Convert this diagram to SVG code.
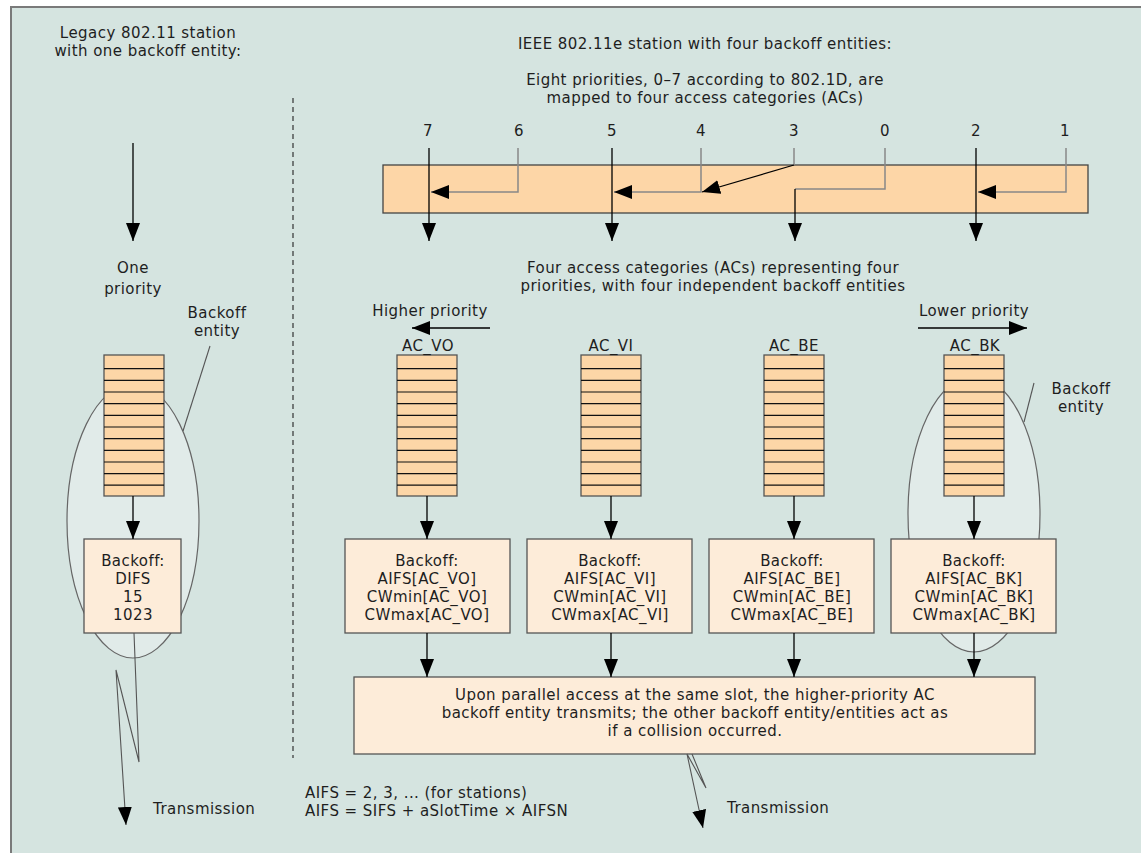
<svg xmlns="http://www.w3.org/2000/svg" width="1141" height="853" viewBox="0 0 1141 853">
<defs>
<style>
text{font-family:"DejaVu Sans","Open Sans","Liberation Sans",sans-serif;font-size:15px;letter-spacing:0.45px;fill:#1e1e1e;text-anchor:middle}
.l{text-anchor:start}
.q{fill:#fdd6a7;stroke:#555;stroke-width:1.3}
.sl{stroke:#111;stroke-width:1.2}
.bx{fill:#fdecd9;stroke:#555;stroke-width:1.3}
.el{fill:#e1ebe9;stroke:#666;stroke-width:1.2}
.a{fill:none;stroke:#000;stroke-width:1.3}
.g{fill:none;stroke:#888;stroke-width:1.5}
.t{fill:none;stroke:#555;stroke-width:1.1}
</style>
<marker id="ah" viewBox="0 0 18 14" refX="18" refY="7" markerWidth="18" markerHeight="14" markerUnits="userSpaceOnUse" orient="auto"><path d="M0,0 L18,7 L0,14 z" fill="#000"/></marker>
<g id="queue">
<rect class="q" x="0" y="0" width="60" height="141"/>
<path class="sl" d="M0,13.7H60M0,25.4H60M0,37H60M0,48.6H60M0,60.3H60M0,72H60M0,83.6H60M0,95.3H60M0,107H60M0,118.6H60M0,130.2H60"/>
</g>
</defs>
<rect x="11" y="7" width="1140" height="860" fill="#d5e4e0" stroke="#7a7a7a" stroke-width="2"/>
<g id="titles">
<text x="148" y="38">Legacy 802.11 station</text>
<text x="148" y="56">with one backoff entity:</text>
<text x="705" y="49">IEEE 802.11e station with four backoff entities:</text>
<text x="705" y="85">Eight priorities, 0–7 according to 802.1D, are</text>
<text x="705" y="103">mapped to four access categories (ACs)</text>
<text x="713" y="273">Four access categories (ACs) representing four</text>
<text x="713" y="291">priorities, with four independent backoff entities</text>
</g>
<path d="M293,98V758" stroke="#333" stroke-width="1.2" stroke-dasharray="5,4" fill="none"/>
<g id="priorities">
<text x="428" y="136">7</text><text x="519" y="136">6</text><text x="612" y="136">5</text><text x="701" y="136">4</text>
<text x="794" y="136">3</text><text x="885" y="136">0</text><text x="976" y="136">2</text><text x="1065" y="136">1</text>
</g>
<g id="mapping-bar"><rect x="383" y="165" width="705" height="48" fill="#fdd6a7" stroke="#444" stroke-width="1.3"/></g>
<g id="legacy">
<ellipse class="el" cx="133" cy="521" rx="66" ry="137"/>
<use href="#queue" x="104" y="355"/>
<rect class="bx" x="84" y="539" width="97" height="94"/>
<text x="133" y="566">Backoff:</text><text x="133" y="584">DIFS</text><text x="133" y="602">15</text><text x="133" y="620">1023</text>
<text x="133" y="273">One</text><text x="133" y="294">priority</text>
<text x="217" y="318">Backoff</text><text x="217" y="336">entity</text>
</g>
<g id="ac-vo">
<use href="#queue" x="397" y="355"/>
<text x="428" y="351">AC_VO</text>
<rect class="bx" x="345" y="539" width="165" height="94"/>
<text x="427" y="566">Backoff:</text><text x="427" y="584">AIFS[AC_VO]</text><text x="427" y="602">CWmin[AC_VO]</text><text x="427" y="620">CWmax[AC_VO]</text>
</g>
<g id="ac-vi">
<use href="#queue" x="581" y="355"/>
<text x="611" y="351">AC_VI</text>
<rect class="bx" x="527" y="539" width="165" height="94"/>
<text x="610" y="566">Backoff:</text><text x="610" y="584">AIFS[AC_VI]</text><text x="610" y="602">CWmin[AC_VI]</text><text x="610" y="620">CWmax[AC_VI]</text>
</g>
<g id="ac-be">
<use href="#queue" x="764" y="355"/>
<text x="794" y="351">AC_BE</text>
<rect class="bx" x="709" y="539" width="165" height="94"/>
<text x="792" y="566">Backoff:</text><text x="792" y="584">AIFS[AC_BE]</text><text x="792" y="602">CWmin[AC_BE]</text><text x="792" y="620">CWmax[AC_BE]</text>
</g>
<g id="ac-bk">
<ellipse class="el" cx="974" cy="514" rx="66" ry="138"/>
<use href="#queue" x="944" y="355"/>
<text x="975" y="351">AC_BK</text>
<rect class="bx" x="891" y="539" width="165" height="94"/>
<text x="974" y="566">Backoff:</text><text x="974" y="584">AIFS[AC_BK]</text><text x="974" y="602">CWmin[AC_BK]</text><text x="974" y="620">CWmax[AC_BK]</text>
<text x="1081" y="394">Backoff</text><text x="1081" y="412">entity</text>
</g>
<g id="collision">
<rect class="bx" x="354" y="677" width="681" height="77"/>
<text x="695" y="700">Upon parallel access at the same slot, the higher-priority AC</text>
<text x="695" y="718">backoff entity transmits; the other backoff entity/entities act as</text>
<text x="695" y="736">if a collision occurred.</text>
</g>
<g id="labels">
<text x="430" y="316">Higher priority</text>
<text x="974" y="316">Lower priority</text>
<text class="l" x="153" y="814">Transmission</text>
<text class="l" x="727" y="813">Transmission</text>
<text class="l" x="305" y="798">AIFS = 2, 3, ... (for stations)</text>
<text class="l" x="305" y="816">AIFS = SIFS + aSlotTime × AIFSN</text>
</g>
<g id="connectors">
<path class="g" d="M518,148V192H431" marker-end="url(#ah)"/>
<path class="g" d="M701,148V192H614" marker-end="url(#ah)"/>
<path class="g" d="M1066,148V192H978" marker-end="url(#ah)"/>
<path class="g" d="M885,148V189H795"/>
<path class="a" d="M795,189V241" marker-end="url(#ah)"/>
<path class="g" d="M794,148V165"/>
<path class="a" stroke-width="1" d="M794,165L702,192" marker-end="url(#ah)"/>
<path class="a" d="M429,148V241" marker-end="url(#ah)"/>
<path class="a" d="M612,148V241" marker-end="url(#ah)"/>
<path class="a" d="M976,148V241" marker-end="url(#ah)"/>
<path class="a" d="M133,143V241" marker-end="url(#ah)"/>
<path class="a" d="M490,328H412" marker-end="url(#ah)"/>
<path class="a" d="M918,328H1027" marker-end="url(#ah)"/>
<path class="a" d="M133,496V539" marker-end="url(#ah)"/>
<path class="a" d="M427,496V539" marker-end="url(#ah)"/>
<path class="a" d="M611,496V539" marker-end="url(#ah)"/>
<path class="a" d="M794,496V539" marker-end="url(#ah)"/>
<path class="a" d="M974,496V539" marker-end="url(#ah)"/>
<path class="a" d="M427,633V677" marker-end="url(#ah)"/>
<path class="a" d="M611,633V677" marker-end="url(#ah)"/>
<path class="a" d="M794,633V677" marker-end="url(#ah)"/>
<path class="a" d="M974,633V677" marker-end="url(#ah)"/>
<path class="t" d="M210,346L183,431"/>
<path class="t" d="M1034,383L1024,422"/>
<path class="t" d="M134,633L139,762L116,670L126,825" marker-end="url(#ah)"/>
<path class="t" d="M692,754L706,788L687,754L703,828" marker-end="url(#ah)"/>
</g>
</svg>
